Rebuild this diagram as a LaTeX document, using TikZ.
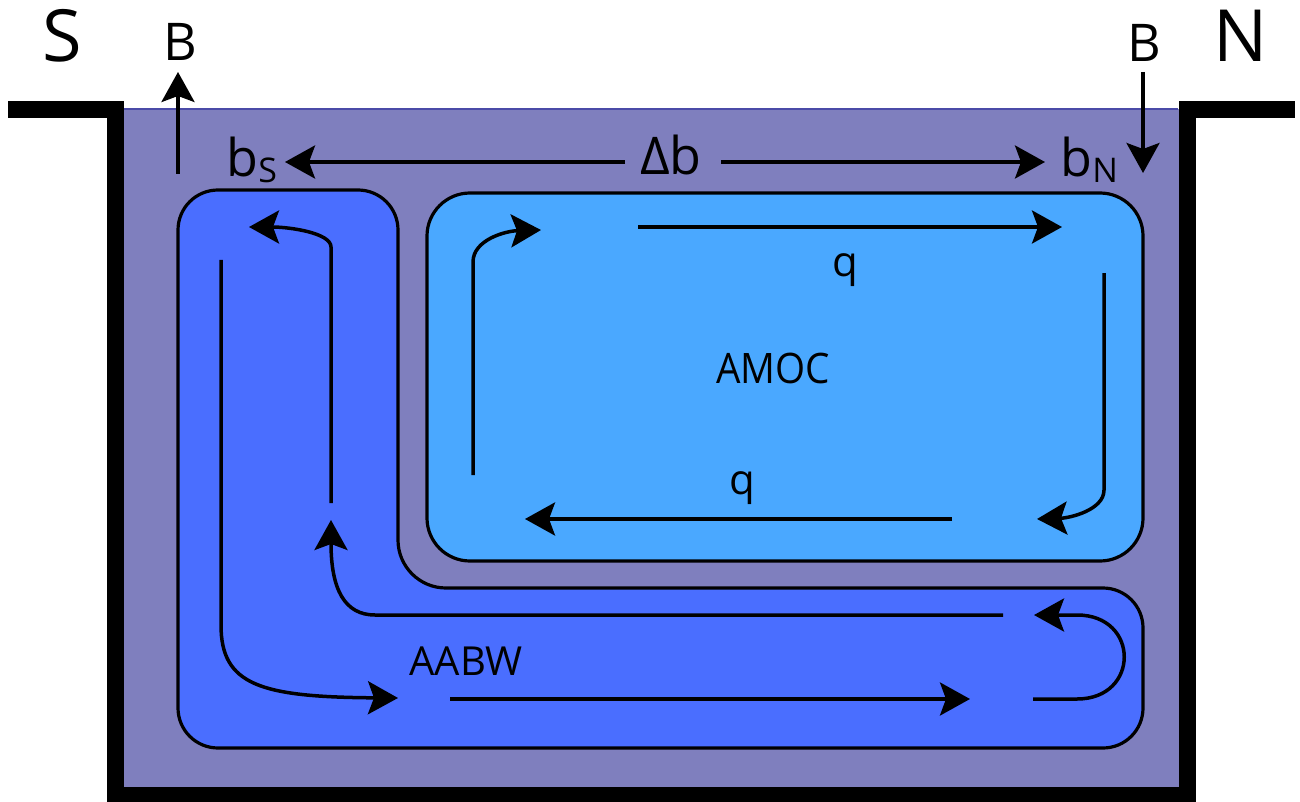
\documentclass[tikz,border=0pt]{standalone}
\usepackage{fontspec}
\setmainfont{Open Sans}
\usetikzlibrary{arrows.meta}
\definecolor{water}{HTML}{7F7FBE}
\definecolor{surf}{HTML}{4B4BA8}
\definecolor{aabw}{HTML}{4A6EFF}
\definecolor{amoc}{HTML}{4AA8FF}
\begin{document}
\begin{tikzpicture}[x=0.5pt,y=-0.5pt,
  flow/.style={line width=1.75pt, -{Stealth[length=15pt,width=16.5pt,inset=3pt]}},
  lbl/.style={inner sep=0pt, anchor=base},
  big/.style={font=\fontsize{36}{40}\selectfont},
  mid/.style={font=\fontsize{26}{30}\selectfont},
  sml/.style={font=\fontsize{21}{25}\selectfont},
  boxline/.style={line width=1.6pt, draw=black}]
\useasboundingbox (0,0) rectangle (1300,802);
% water
\fill[water] (115,109) rectangle (1187,795);
\draw[surf, line width=1pt] (124,109.5) -- (1178,109.5);
% AABW cell
\draw[boxline, fill=aabw, rounded corners=20pt]
  (178,470) -- (178,190) -- (398,190) [rounded corners=24pt] -- (398,588)
  [rounded corners=20pt] -- (1143,588) -- (1143,748) -- (178,748) -- cycle;
% AMOC cell
\draw[boxline, fill=amoc, rounded corners=21.5pt] (427,193) rectangle (1143,561);
% basin walls
\draw[line width=8.5pt, line join=miter] (8,110) -- (115.5,110) -- (115.5,795) -- (1187,795) -- (1187,110) -- (1295,110);
% labels
\node[lbl, big] (S) at (62,62) {S};
\node[lbl, big] (N) at (1241,62) {N};
\node[lbl, mid] (BS) at (180,61) {B};
\node[lbl, mid] (BN) at (1144,62) {B};
\node[lbl, mid] (db) at (671,175) {Δb};
\node[lbl, mid, anchor=base west] (bS) at (226,177) {b\raisebox{-2.5pt}{\fontsize{17}{20}\selectfont S}};
\node[lbl, mid, anchor=base west] (bN) at (1060,177) {b\raisebox{-2.5pt}{\fontsize{17}{20}\selectfont N}};
\node[lbl, sml] (amoc) at (773,383) {\scalebox{0.92}[1]{AMOC}};
\node[lbl, sml] (qt) at (845,277) {q};
\node[lbl, sml] (qb) at (742,494) {q};
\node[lbl, font=\fontsize{20}{24}\selectfont] (aabw) at (466,675) {AABW};
% buoyancy fluxes
\coordinate (bsfoot) at (178,174);
\coordinate (bstip) at (178,72);
\coordinate (bntop) at (1143,72);
\coordinate (bntip) at (1143,173);
\draw[flow] (bsfoot) -- (bstip);
\draw[flow] (bntop) -- (bntip);
% Delta b arrows
\coordinate (dbl) at (625,162);
\coordinate (dbr) at (721,162);
\coordinate (bstipb) at (285,162);
\coordinate (bntipb) at (1045,162);
\draw[flow] (dbl) -- (bstipb);
\draw[flow] (dbr) -- (bntipb);
% AMOC circulation
\draw[flow] (473,475) -- (473,262) .. controls (473,240) and (505,231) .. (541,230);
\draw[flow] (638,227) -- (1062,227);
\draw[flow] (1104,273) -- (1104,490) .. controls (1104,510) and (1070,518) .. (1037,519);
\draw[flow] (952,519) -- (525,519);
% AABW circulation
\draw[flow] (331,503) -- (331,247) .. controls (331,233) and (290,227) .. (249,227);
\draw[flow] (221,260) -- (221,625) .. controls (221,685) and (260,697) .. (398,698);
\draw[flow] (1003,615) -- (375,615) .. controls (345,615) and (331,590) .. (331,520);
\draw[flow] (450,699) -- (970,699);
\draw[flow] (1033,699) -- (1077,699) .. controls (1140,699) and (1140,615) .. (1077,615) -- (1034,615);
\end{tikzpicture}
\end{document}
